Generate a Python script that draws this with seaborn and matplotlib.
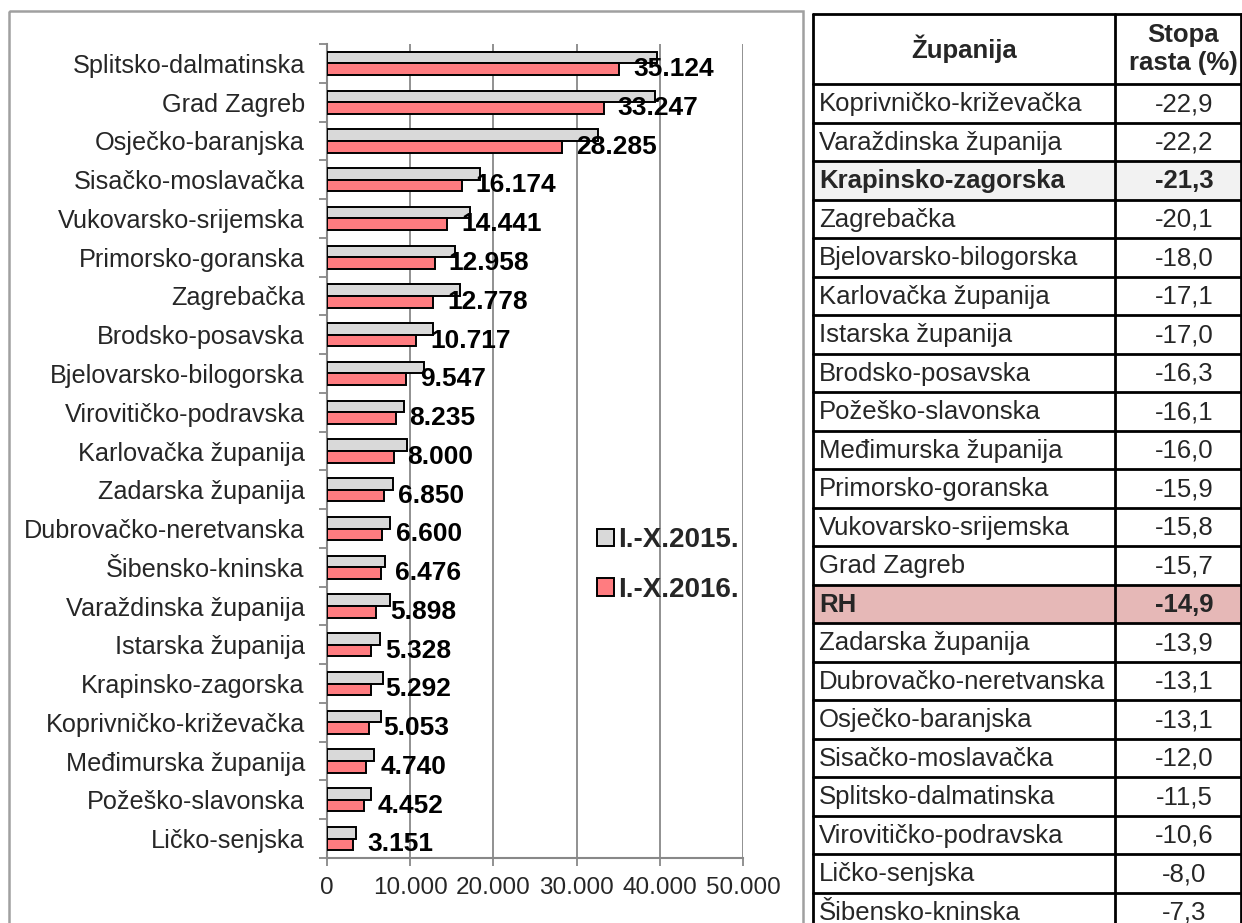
import matplotlib
matplotlib.use("Agg")
import matplotlib.pyplot as plt
import seaborn as sns
import pandas as pd
from matplotlib.patches import Rectangle
from matplotlib.ticker import FuncFormatter, FixedLocator
from matplotlib.lines import Line2D
import matplotlib.transforms as mtransforms

# ---------------- data ----------------
counties = ["Splitsko-dalmatinska", "Grad Zagreb", "Osječko-baranjska", "Sisačko-moslavačka",
            "Vukovarsko-srijemska", "Primorsko-goranska", "Zagrebačka", "Brodsko-posavska",
            "Bjelovarsko-bilogorska", "Virovitičko-podravska", "Karlovačka županija",
            "Zadarska županija", "Dubrovačko-neretvanska", "Šibensko-kninska",
            "Varaždinska županija", "Istarska županija", "Krapinsko-zagorska",
            "Koprivničko-križevačka", "Međimurska županija", "Požeško-slavonska", "Ličko-senjska"]
values_2015 = [39690, 39440, 32550, 18380, 17150, 15410, 15990, 12800, 11640, 9210, 9650,
               7960, 7600, 6990, 7580, 6420, 6720, 6550, 5640, 5310, 3430]
values_2016 = [35124, 33247, 28285, 16174, 14441, 12958, 12778, 10717, 9547, 8235, 8000,
               6850, 6600, 6476, 5898, 5328, 5292, 5053, 4740, 4452, 3151]
series_names = ["I.-X.2015.", "I.-X.2016."]
x_ticks = [0, 10000, 20000, 30000, 40000, 50000]

table_header = ["Županija", "Stopa\nrasta (%)"]
table_names = ["Koprivničko-križevačka", "Varaždinska županija", "Krapinsko-zagorska", "Zagrebačka",
               "Bjelovarsko-bilogorska", "Karlovačka županija", "Istarska županija",
               "Brodsko-posavska", "Požeško-slavonska", "Međimurska županija",
               "Primorsko-goranska", "Vukovarsko-srijemska", "Grad Zagreb", "RH",
               "Zadarska županija", "Dubrovačko-neretvanska", "Osječko-baranjska",
               "Sisačko-moslavačka", "Splitsko-dalmatinska", "Virovitičko-podravska",
               "Ličko-senjska", "Šibensko-kninska"]
table_rates = ["-22,9", "-22,2", "-21,3", "-20,1", "-18,0", "-17,1", "-17,0", "-16,3", "-16,1",
               "-16,0", "-15,9", "-15,8", "-15,7", "-14,9", "-13,9", "-13,1", "-13,1", "-12,0",
               "-11,5", "-10,6", "-8,0", "-7,3"]
highlight_rows = {"Krapinsko-zagorska": "#F2F2F2", "RH": "#E6B8B7"}

# ---------------- style ----------------
sns.set_theme(style="white")
plt.rcParams["font.family"] = ["Liberation Sans", "DejaVu Sans"]

W, H = 1242, 923
fig = plt.figure(figsize=(W / 100, H / 100), dpi=100)
fig.patch.set_facecolor("white")

GRAY = "#D9D9D9"
RED = "#FF7C80"
AXIS_GRAY = "#888888"

# ---------------- bar chart ----------------
df = pd.DataFrame({
    "county": counties * 2,
    "period": [series_names[0]] * len(counties) + [series_names[1]] * len(counties),
    "value": values_2015 + values_2016,
})

x0, x1, ytop, ybot = 327, 743, 44, 858
ax = fig.add_axes([x0 / W, 1 - ybot / H, (x1 - x0) / W, (ybot - ytop) / H])
sns.barplot(data=df, y="county", x="value", hue="period", order=counties,
            hue_order=series_names, palette=[GRAY, RED], width=0.6, gap=0,
            edgecolor="black", linewidth=1.4, orient="h", ax=ax, legend=False,
            saturation=1, zorder=3)

ax.set_xlim(0, 50000)
ax.set_ylim(len(counties) - 0.5, -0.5)
ax.set_xlabel("")
ax.set_ylabel("")
ax.xaxis.set_major_locator(FixedLocator(x_ticks))
ax.xaxis.set_major_formatter(FuncFormatter(lambda v, p: f"{int(v):,}".replace(",", ".")))
ax.grid(axis="x", color=AXIS_GRAY, linewidth=1.3, zorder=0)
ax.set_axisbelow(True)
for s in ["top", "right"]:
    ax.spines[s].set_visible(False)
for s in ["left", "bottom"]:
    ax.spines[s].set_color(AXIS_GRAY)
    ax.spines[s].set_linewidth(1.5)

ax.tick_params(axis="x", which="major", length=6, width=1.3, color=AXIS_GRAY,
               direction="out", labelsize=17.5, pad=8, bottom=True)
ax.tick_params(axis="y", which="major", length=0, labelsize=18.2, pad=16, left=True)
ax.yaxis.set_minor_locator(FixedLocator([i - 0.5 for i in range(len(counties) + 1)]))
ax.tick_params(axis="y", which="minor", length=6, width=1.3, color=AXIS_GRAY,
               direction="out", left=True)

# value labels on the 2016 bars
red_container = ax.containers[1]
texts = ax.bar_label(red_container, labels=[f"{v:,}".replace(",", ".") for v in values_2016],
                     padding=10, fontsize=19, fontweight="bold", color="black")
shift = mtransforms.ScaledTranslation(0, -2 / 100, fig.dpi_scale_trans)
for t in texts:
    t.set_transform(t.get_transform() + shift)

# legend
handles = [Rectangle((0, 0), 1, 1, facecolor=c, edgecolor="black", linewidth=1.4)
           for c in [GRAY, RED]]
fig.legend(handles, series_names, loc="upper left", bbox_to_anchor=(586 / W, 1 - 516 / H),
           frameon=False, prop={"size": 20, "weight": "bold"}, handlelength=0.6,
           handleheight=0.6, handletextpad=0.15, labelspacing=0.85, borderaxespad=0)

# ---------------- overlay: panel border + table ----------------
ov = fig.add_axes([0, 0, 1, 1], zorder=-1)
ov.set_xlim(0, W)
ov.set_ylim(H, 0)
ov.axis("off")
ov.patch.set_alpha(0)

ov.add_patch(Rectangle((9, 11), 803 - 9, 940 - 11, facecolor="none",
                       edgecolor="#A0A0A0", linewidth=1.8))

tx0, tdiv, tx1 = 813, 1115, 1240.5
ty0, thead = 14, 84
rh = 38.5
n = len(table_names)

# row backgrounds
for i, name in enumerate(table_names):
    if name in highlight_rows:
        ov.add_patch(Rectangle((tx0, thead + i * rh), tx1 - tx0, rh,
                               facecolor=highlight_rows[name], edgecolor="none"))

# grid lines
lw = 2.0
ov.add_line(Line2D([tx0, tx1], [ty0, ty0], color="black", linewidth=lw))
for i in range(n + 1):
    y = thead + i * rh
    ov.add_line(Line2D([tx0, tx1], [y, y], color="black", linewidth=lw))
yb = thead + n * rh + 5
for x in (tx0, tdiv, tx1):
    ov.add_line(Line2D([x, x], [ty0, yb], color="black", linewidth=lw))

# header text
ov.text((tx0 + tdiv) / 2, (ty0 + thead) / 2, table_header[0], ha="center", va="center",
        fontsize=18.5, fontweight="bold")
ov.text(1183, (ty0 + thead) / 2, table_header[1], ha="center", va="center",
        fontsize=18.5, fontweight="bold", linespacing=1.2)

# body text
for i, (name, rate) in enumerate(zip(table_names, table_rates)):
    yc = thead + (i + 0.5) * rh + 1
    weight = "bold" if name in highlight_rows else "normal"
    ov.text(tx0 + 6, yc, name, ha="left", va="center", fontsize=18.5, fontweight=weight)
    ov.text(1184, yc, rate, ha="center", va="center", fontsize=18.5, fontweight=weight)

fig.savefig("out.png", dpi=100, facecolor="white")
